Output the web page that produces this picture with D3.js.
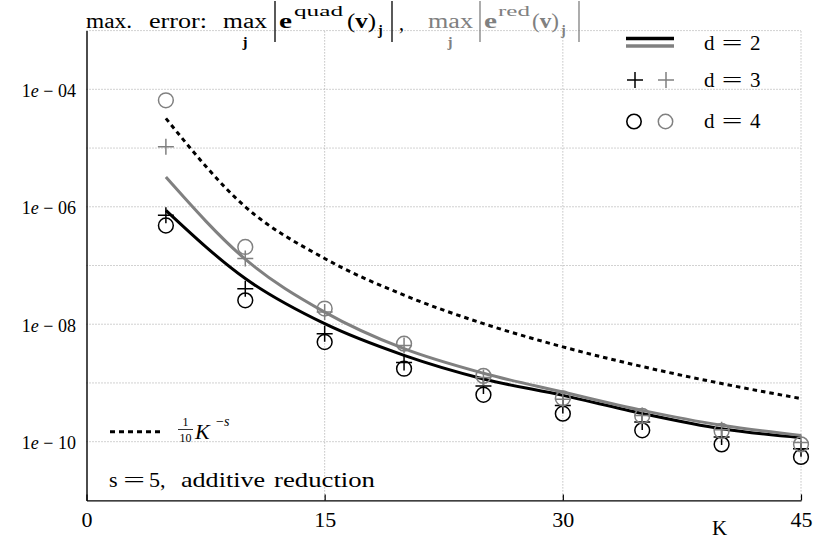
<!DOCTYPE html>
<html><head><meta charset="utf-8">
<script src="https://cdn.jsdelivr.net/npm/d3@7"></script>
<style>
body{margin:0;background:#fff}
svg{display:block}
text{font-family:"Liberation Serif","Times New Roman",Times,serif;fill:#000}
</style>
</head><body>
<svg id="c" width="815" height="542"></svg>
<script>
// ---- data ----
const K = [5, 10, 15, 20, 25, 30, 35, 40, 45];
const quadD2 = [8.7e-7, 6.0e-8, 1.02e-8, 2.95e-9, 1.17e-9, 6.15e-10, 3.03e-10, 1.66e-10, 1.17e-10];
const redD2  = [3.2e-6, 1.28e-7, 1.61e-8, 3.83e-9, 1.46e-9, 7.0e-10, 3.41e-10, 1.9e-10, 1.28e-10];
const quadD3 = [7.2e-7, 4.0e-8, 6.9e-9, 2.22e-9, 8.9e-10, 4.15e-10, 2.17e-10, 1.2e-10, 7.6e-11];
const redD3  = [1.05e-5, 1.31e-7, 1.61e-8, 4.36e-9, 1.24e-9, 5.3e-10, 2.8e-10, 1.6e-10, 9.7e-11];
const quadD4 = [4.8e-7, 2.55e-8, 4.98e-9, 1.75e-9, 6.3e-10, 3.0e-10, 1.56e-10, 9.0e-11, 5.5e-11];
const redD4  = [6.5e-5, 2.07e-7, 1.85e-8, 4.67e-9, 1.32e-9, 5.47e-10, 2.75e-10, 1.52e-10, 9.0e-11];
const refLine = [3.2e-5, 1.0e-6, 1.317e-7, 3.125e-8, 1.024e-8, 4.115e-9, 1.904e-9, 9.77e-10, 5.42e-10];
const xTicks = [0, 15, 30, 45];
const xGrid = [15, 30, 45];
const yTicks = [1e-4, 1e-6, 1e-8, 1e-10];
const yTickLabels = ["04", "06", "08", "10"];
const yGrid = [1e-10, 1e-9, 1e-8, 1e-7, 1e-6, 1e-5, 1e-4, 1e-3];
const legendValues = ["2", "3", "4"];

const GREY = "#808080";
const FONT = '"Liberation Serif","Times New Roman",Times,serif';
const svg = d3.select("#c");
const x = d3.scaleLinear().domain([0, 45]).range([86.5, 801]);
const y = d3.scaleLog().domain([1e-11, 1e-3]).range([500.4, 30.6]);

// ---- grid ----
const grid = svg.append("g").attr("stroke", "#9a9a9a").attr("stroke-width", 0.9).attr("stroke-dasharray", "1,2");
grid.selectAll("line.h").data(yGrid).join("line").attr("class", "h")
  .attr("x1", x(0)).attr("x2", x(45)).attr("y1", d => y(d)).attr("y2", d => y(d));
grid.selectAll("line.v").data(xGrid).join("line").attr("class", "v")
  .attr("x1", d => x(d)).attr("x2", d => x(d)).attr("y1", y(1e-11)).attr("y2", y(1e-3));

// ---- axes ----
const ax = svg.append("g").attr("transform", `translate(0,${y(1e-11)})`)
  .call(d3.axisBottom(x).tickValues(xTicks).tickSizeInner(-6).tickSizeOuter(0).tickPadding(11));
ax.attr("font-family", null);
ax.selectAll("text").style("font-family", FONT).style("font-size", "22px").attr("fill", "#000");
ax.selectAll("line").attr("stroke", "#000").attr("stroke-width", 1.2);
ax.select(".domain").attr("stroke", "#000").attr("stroke-width", 1.4);

const ay = svg.append("g").attr("transform", `translate(${x(0)},0)`)
  .call(d3.axisLeft(y).tickValues(yTicks).tickSize(0).tickPadding(10.5).tickFormat(() => ""));
ay.attr("font-family", null);
ay.select(".domain").attr("stroke", "#000").attr("stroke-width", 1.4);
ay.selectAll(".tick text").each(function(d, i) {
  const t = d3.select(this).text(null).attr("dy", "0.38em")
    .style("font-family", FONT).style("font-size", "18px").attr("fill", "#000");
  t.append("tspan").text("1");
  t.append("tspan").attr("font-style", "italic").text("e");
  t.append("tspan").text(" \u2212 " + yTickLabels[i]);
});

// ---- curves ----
const line = d3.line().x(d => x(d[0])).y(d => y(d[1])).curve(d3.curveMonotoneX);
const zip = arr => K.map((k, i) => [k, arr[i]]);
svg.append("path").attr("d", line(zip(refLine))).attr("fill", "none").attr("stroke", "#000")
  .attr("stroke-width", 3).attr("stroke-dasharray", "4.5,4");
svg.append("path").attr("d", line(zip(quadD2))).attr("fill", "none").attr("stroke", "#000").attr("stroke-width", 3);
svg.append("path").attr("d", line(zip(redD2))).attr("fill", "none").attr("stroke", GREY).attr("stroke-width", 3);

// ---- markers ----
const plusPath = "M-8,0H8M0,-8V8";
function circles(arr, col) {
  svg.append("g").selectAll("circle").data(zip(arr)).join("circle")
    .attr("cx", d => x(d[0])).attr("cy", d => y(d[1])).attr("r", 7.4)
    .attr("fill", "none").attr("stroke", col).attr("stroke-width", 1.5);
}
function pluses(arr, col) {
  svg.append("g").selectAll("path").data(zip(arr)).join("path")
    .attr("transform", d => `translate(${x(d[0])},${y(d[1])})`).attr("d", plusPath)
    .attr("fill", "none").attr("stroke", col).attr("stroke-width", 1.5);
}
circles(quadD4, "#000");
pluses(quadD3, "#000");
circles(redD4, GREY);
pluses(redD3, GREY);

// ---- text helper ----
function txt(xp, yp, s, o = {}) {
  const t = svg.append("text").attr("x", xp).attr("y", yp).text(s)
    .style("font-size", (o.size || 20) + "px");
  if (o.fill) t.attr("fill", o.fill).style("fill", o.fill);
  if (o.weight) t.attr("font-weight", o.weight);
  if (o.italic) t.attr("font-style", "italic");
  if (o.anchor) t.attr("text-anchor", o.anchor);
  if (o.len) t.attr("textLength", o.len).attr("lengthAdjust", o.adj || "spacingAndGlyphs");
  return t;
}
function eq(cx, by, size) {
  svg.append("text").attr("x", 0).attr("y", 0).attr("text-anchor", "middle")
    .attr("transform", `translate(${cx},${by}) scale(1.75,1)`)
    .style("font-size", size + "px").text("=");
}
function vbar(xp, col) {
  svg.append("line").attr("x1", xp).attr("x2", xp).attr("y1", 1).attr("y2", 42)
    .attr("stroke", col).attr("stroke-width", 1.3);
}
function paren(xp, col, len) {
  const t = txt(xp, 28, "", { size: 21, fill: col, len: len });
  t.append("tspan").text("(");
  t.append("tspan").attr("font-weight", "bold").text("v");
  t.append("tspan").text(")");
}

// ---- title ----
txt(86, 28, "max.", { size: 20, len: 46 });
txt(149, 28, "error:", { size: 20, len: 58 });
txt(223, 28, "max", { size: 20, len: 44 });
txt(245, 47, "j", { size: 15, weight: "bold", anchor: "middle" });
vbar(275, "#000");
txt(279, 28, "e", { size: 21, weight: "bold", len: 13 });
txt(294, 16, "quad", { size: 15, len: 49 });
paren(347, "#000", 29);
txt(378, 35, "j", { size: 14, weight: "bold" });
vbar(392, "#000");
txt(399, 30, ",", { size: 20 });

txt(428, 28, "max", { size: 20, len: 45, fill: GREY });
txt(450, 47, "j", { size: 15, weight: "bold", anchor: "middle", fill: GREY });
vbar(480, GREY);
txt(484, 28, "e", { size: 21, weight: "bold", fill: GREY, len: 13 });
txt(498, 16, "red", { size: 15, len: 32, fill: GREY });
paren(532, GREY, 27);
txt(561, 35, "j", { size: 14, weight: "bold", fill: GREY });
vbar(579, GREY);

// ---- legend top-right ----
svg.append("line").attr("x1", 626).attr("x2", 674).attr("y1", 38.5).attr("y2", 38.5).attr("stroke", "#000").attr("stroke-width", 3.5);
svg.append("line").attr("x1", 626).attr("x2", 674).attr("y1", 46).attr("y2", 46).attr("stroke", GREY).attr("stroke-width", 3.5);
svg.append("path").attr("transform", "translate(635,80)").attr("d", plusPath).attr("stroke", "#000").attr("stroke-width", 1.5);
svg.append("path").attr("transform", "translate(666,80)").attr("d", plusPath).attr("stroke", GREY).attr("stroke-width", 1.5);
svg.append("circle").attr("cx", 634).attr("cy", 121.5).attr("r", 7.2).attr("fill", "none").attr("stroke", "#000").attr("stroke-width", 1.6);
svg.append("circle").attr("cx", 665.5).attr("cy", 121.5).attr("r", 7.2).attr("fill", "none").attr("stroke", GREY).attr("stroke-width", 1.5);
[50, 87, 128].forEach((by, i) => {
  txt(704, by, "d", { size: 21 });
  eq(732, by, 21);
  txt(750, by, legendValues[i], { size: 21 });
});

// ---- bottom-left legend ----
svg.append("line").attr("x1", 110).attr("x2", 163).attr("y1", 431.7).attr("y2", 431.7)
  .attr("stroke", "#000").attr("stroke-width", 3).attr("stroke-dasharray", "5,4");
txt(185.5, 426, "1", { size: 12, anchor: "middle" });
svg.append("line").attr("x1", 178).attr("x2", 193).attr("y1", 429.5).attr("y2", 429.5).attr("stroke", "#000").attr("stroke-width", 0.8);
txt(185.5, 442, "10", { size: 12, anchor: "middle" });
txt(195, 439, "K", { size: 22, italic: true });
const sup = txt(216, 426, "", { size: 14 });
sup.append("tspan").text("\u2212");
sup.append("tspan").attr("font-style", "italic").text("s");

// ---- annotation ----
txt(109, 487, "s", { size: 22 });
eq(134, 487, 22);
txt(149, 487, "5,", { size: 22 });
txt(181, 487, "additive", { size: 22, len: 84 });
txt(274, 487, "reduction", { size: 22, len: 101 });
txt(712, 535, "K", { size: 21 });
</script>
</body></html>
